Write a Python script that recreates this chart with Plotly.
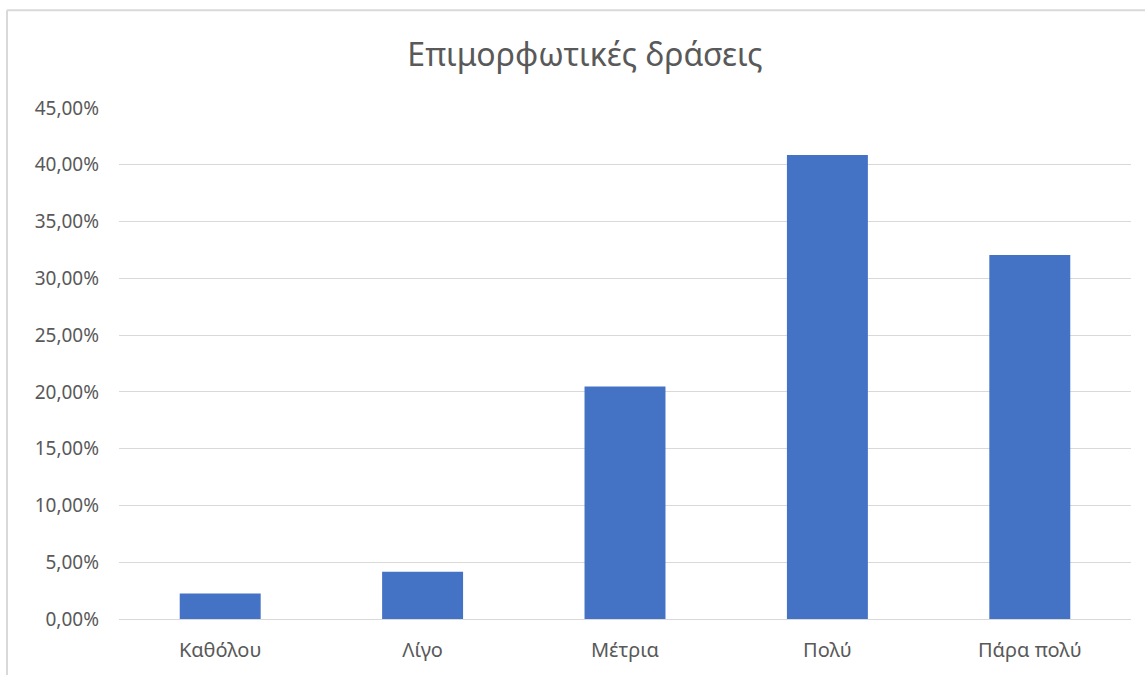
import plotly.graph_objects as go

categories = ["Καθόλου", "Λίγο", "Μέτρια", "Πολύ", "Πάρα πολύ"]
values = [0.0225, 0.0417, 0.2047, 0.4087, 0.3205]
tick_vals = [0, 0.05, 0.10, 0.15, 0.20, 0.25, 0.30, 0.35, 0.40, 0.45]
tick_text = ["0,00%", "5,00%", "10,00%", "15,00%", "20,00%", "25,00%",
             "30,00%", "35,00%", "40,00%", "45,00%"]
title_text = "Επιμορφωτικές δράσεις"

FONT = "Noto Sans"
TXT = "#595959"

fig = go.Figure(go.Bar(x=categories, y=values, marker=dict(color="#4472C4", line=dict(width=0))))

fig.update_layout(
    width=1145, height=675,
    margin=dict(l=119, r=14, t=108, b=52),
    paper_bgcolor="white", plot_bgcolor="white",
    bargap=0.6,
    showlegend=False,
    title=dict(text=title_text, x=585 / 1145, xanchor="center", y=1 - 55 / 675, yanchor="middle",
               font=dict(family=FONT, size=32, color=TXT)),
    font=dict(family=FONT, color=TXT),
)
fig.update_yaxes(range=[0, 0.45], tickvals=tick_vals, ticktext=tick_text,
                 showgrid=True, gridcolor="#D9D9D9", gridwidth=1.3,
                 zeroline=False, showline=False, ticks="",
                 tickfont=dict(family=FONT, size=19, color=TXT), ticklabelstandoff=19)
fig.update_xaxes(showline=True, linecolor="#D9D9D9", linewidth=1.3, ticks="",
                 tickfont=dict(family=FONT, size=20, color=TXT), ticklabelstandoff=13)

# chart frame (left and top edges visible)
x_left = (7 - 119) / 1012
y_top = 1 + (108 - 9.5) / 515
fig.add_shape(type="line", xref="paper", yref="paper", x0=x_left, x1=1.1,
              y0=y_top, y1=y_top, line=dict(color="#D9D9D9", width=2))
fig.add_shape(type="line", xref="paper", yref="paper", x0=x_left, x1=x_left,
              y0=y_top, y1=-0.2, line=dict(color="#D9D9D9", width=2))

fig.write_html("out.html", config={"displayModeBar": False},
               post_script="document.body.style.margin='0';document.body.style.overflow='hidden';")
